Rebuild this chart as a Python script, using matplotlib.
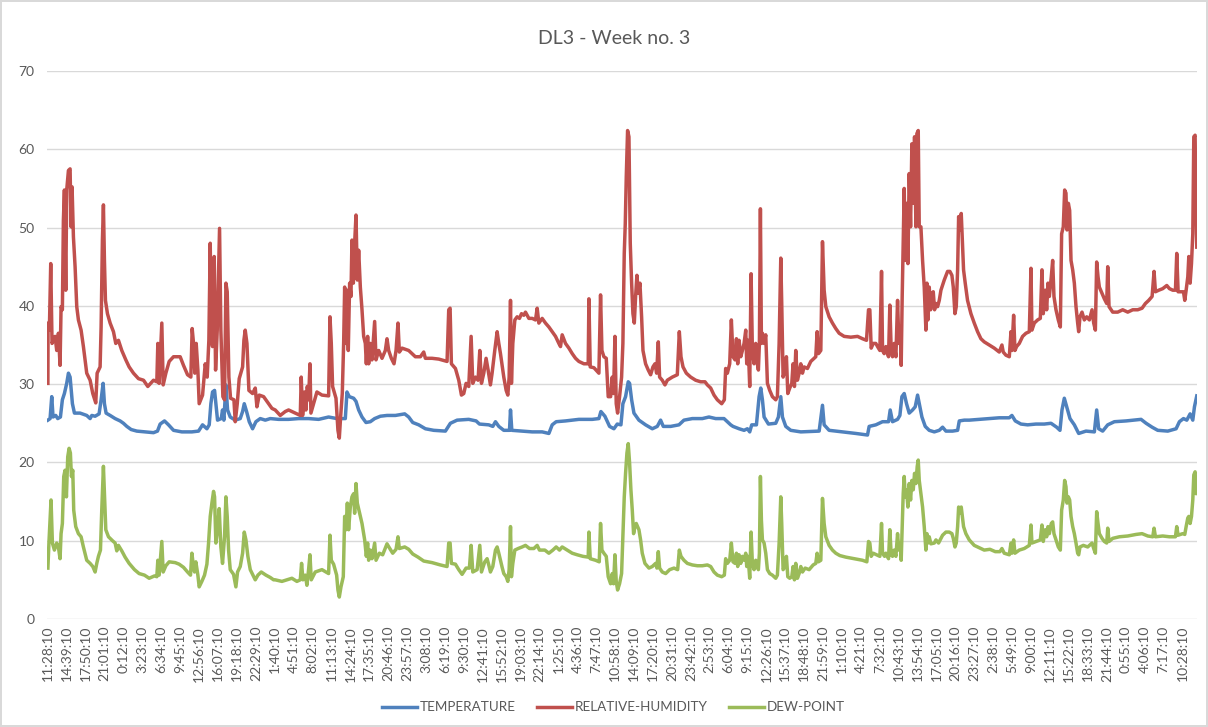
import numpy as np
import matplotlib
matplotlib.use("Agg")
import matplotlib.pyplot as plt

plt.rcParams['font.family'] = ['Lato', 'DejaVu Sans']

# elapsed hours since first reading (11:28:10) and readings for each logger channel
temp_hours = [0.0, 0.37, 0.65, 0.87, 1.32, 1.66, 2.11, 2.44, 2.78, 3.17, 3.46, 3.74, 3.90, 4.13, 4.47, 5.42, 6.54, 7.11, 7.39, 7.95,
              8.62, 8.96, 9.30, 9.52, 9.80, 10.48, 11.32, 12.16, 12.72, 13.29, 14.02, 14.97, 16.37, 17.78, 18.45, 18.90, 19.63, 20.31, 21.15, 22.55,
              24.24, 25.36, 26.04, 26.77, 27.16, 27.44, 27.72, 28.06, 28.28, 28.56, 29.18, 29.40, 29.63, 29.97, 30.25, 30.70, 31.54, 32.38, 32.78, 33.06,
              33.45, 33.90, 34.46, 35.02, 35.75, 36.60, 37.44, 38.84, 40.52, 42.21, 43.89, 45.58, 47.26, 48.66, 50.07, 50.35, 50.74, 51.47, 51.87, 52.32,
              52.88, 53.55, 54.28, 55.01, 55.97, 57.09, 58.50, 60.07, 60.74, 61.42, 62.43, 63.55, 64.95, 66.92, 67.76, 68.89, 70.85, 72.09, 72.65, 74.22,
              74.90, 75.35, 75.91, 76.75, 77.71, 77.88, 78.10, 79.84, 81.53, 83.21, 84.34, 84.90, 85.57, 87.14, 89.39, 91.64, 92.76, 93.10, 93.77, 94.56,
              95.29, 95.85, 96.47, 96.80, 97.25, 97.70, 97.93, 98.27, 98.66, 99.50, 100.62, 101.75, 102.59, 103.15, 103.60, 104.84, 106.24, 107.08, 108.49, 110.17,
              111.29, 112.42, 113.82, 114.95, 115.34, 116.36, 117.20, 117.76, 118.15, 118.49, 119.28, 119.73, 120.01, 120.29, 120.57, 121.30, 122.53, 122.98, 123.38, 123.66,
              124.22, 125.06, 126.75, 129.84, 130.40, 130.68, 131.52, 133.77, 136.01, 137.98, 138.26, 139.38, 140.51, 141.52, 141.80, 142.19, 143.04, 143.43, 143.77, 144.16,
              144.55, 145.00, 145.56, 146.01, 146.41, 146.69, 147.14, 147.70, 148.37, 149.22, 150.06, 150.62, 151.18, 152.30, 153.15, 153.43, 154.27, 155.11, 156.79, 158.48,
              160.16, 161.85, 162.29, 162.86, 163.81, 164.94, 166.34, 167.74, 168.87, 169.82, 170.38, 170.72, 171.11, 171.51, 172.07, 172.80, 173.53, 174.76, 176.17, 176.56,
              176.90, 177.57, 178.42, 179.54, 181.51, 184.03, 184.88, 185.89, 186.84, 188.53, 189.93, 190.49, 191.17, 191.73, 192.29, 192.74, 193.02, 193.41]
temp_values = [25.4, 25.6, 28.4, 25.8, 26.0, 25.6, 25.8, 28.0, 28.8, 30.1, 31.4, 30.9, 29.5, 27.5, 26.3, 26.3, 26.0, 25.6, 26.0, 25.9,
               26.2, 28.0, 30.1, 27.5, 26.3, 26.0, 25.6, 25.3, 25.0, 24.6, 24.2, 24.0, 23.9, 23.8, 24.0, 24.9, 25.3, 24.8, 24.1, 23.9,
               23.9, 24.0, 24.8, 24.3, 24.8, 27.5, 29.0, 29.2, 27.5, 25.4, 25.6, 26.7, 25.4, 29.9, 26.7, 25.8, 25.4, 25.6, 26.5, 27.5,
               26.5, 25.2, 24.3, 25.2, 25.6, 25.4, 25.6, 25.5, 25.5, 25.6, 25.6, 25.5, 25.8, 25.6, 25.6, 29.0, 28.4, 28.2, 27.8, 26.7,
               25.8, 25.1, 25.2, 25.6, 25.9, 26.0, 26.0, 26.2, 25.8, 25.1, 24.8, 24.3, 24.1, 24.0, 25.0, 25.4, 25.5, 25.3, 24.9, 24.8,
               24.6, 25.2, 24.6, 24.1, 24.1, 26.7, 24.1, 24.0, 23.9, 23.9, 23.7, 24.8, 25.2, 25.3, 25.5, 25.5, 25.6, 26.5, 25.9, 24.6,
               24.3, 24.9, 24.8, 27.5, 28.4, 30.3, 30.1, 28.0, 26.3, 25.4, 24.8, 24.3, 24.6, 25.4, 24.6, 24.6, 24.8, 25.4, 25.6, 25.6,
               25.8, 25.6, 25.6, 24.8, 24.6, 24.3, 24.1, 24.3, 23.9, 24.8, 24.8, 28.4, 29.5, 28.0, 25.8, 24.9, 25.0, 25.8, 28.4, 25.8,
               24.6, 24.1, 23.9, 24.0, 27.3, 24.8, 24.1, 23.9, 23.7, 23.5, 24.6, 24.8, 25.2, 25.2, 26.7, 25.2, 25.5, 26.0, 28.4, 28.8,
               27.5, 26.3, 26.7, 27.1, 28.6, 27.5, 25.8, 24.6, 24.1, 23.9, 24.1, 24.5, 24.0, 24.0, 24.1, 25.3, 25.4, 25.4, 25.5, 25.6,
               25.7, 25.7, 26.0, 25.3, 24.9, 24.8, 24.9, 24.9, 25.0, 24.5, 24.1, 26.7, 28.2, 27.1, 25.6, 24.8, 23.7, 24.0, 23.9, 26.7,
               24.3, 24.0, 24.8, 25.2, 25.3, 25.5, 25.0, 24.5, 24.1, 24.0, 24.3, 25.2, 25.6, 25.4, 26.2, 25.4, 27.1, 28.5]

rh_hours = [0.0, 0.03, 0.25, 0.48, 0.70, 1.21, 1.49, 1.77, 2.05, 2.22, 2.44, 2.61, 2.78, 3.01, 3.17, 3.46, 3.74, 3.90, 4.07, 4.30,
            4.58, 4.86, 5.14, 5.59, 5.98, 6.54, 7.11, 7.56, 8.06, 8.29, 8.79, 8.96, 9.18, 9.35, 9.52, 9.69, 10.03, 10.48, 11.04, 11.43,
            11.88, 12.44, 13.12, 13.68, 14.41, 15.25, 16.10, 16.82, 17.78, 18.34, 18.51, 18.73, 19.18, 19.41, 19.86, 20.42, 21.15, 22.27, 22.83, 23.51,
            24.07, 24.29, 24.52, 24.74, 24.97, 25.25, 25.47, 26.04, 26.49, 26.82, 27.10, 27.33, 27.50, 27.72, 28.00, 28.23, 28.51, 28.90, 29.12, 29.46,
            29.74, 29.97, 30.19, 30.47, 30.75, 31.32, 31.54, 31.88, 32.21, 32.78, 33.00, 33.22, 33.51, 33.84, 34.46, 34.91, 35.19, 35.58, 36.32, 37.16,
            37.72, 38.27, 39.12, 39.96, 40.52, 41.08, 41.92, 42.49, 42.65, 42.88, 43.22, 43.44, 43.67, 43.89, 44.12, 44.28, 44.73, 45.29, 46.14, 47.26,
            47.49, 47.71, 47.93, 48.50, 48.83, 49.06, 49.28, 49.56, 49.79, 49.96, 50.18, 50.35, 50.57, 50.80, 51.02, 51.19, 51.42, 51.64, 51.87, 52.09,
            52.32, 52.60, 52.88, 53.16, 53.44, 53.61, 53.83, 54.00, 54.28, 54.56, 55.01, 55.24, 55.69, 56.25, 56.81, 57.09, 57.37, 57.82, 58.27, 58.61,
            58.94, 59.17, 59.62, 60.74, 61.86, 62.71, 63.27, 63.55, 64.67, 65.80, 67.20, 67.48, 67.71, 67.93, 68.61, 69.17, 69.62, 70.01, 70.40, 70.85,
            71.25, 71.53, 71.98, 72.42, 72.71, 72.99, 73.38, 73.77, 74.11, 74.50, 74.78, 75.23, 75.63, 75.91, 76.19, 76.75, 77.15, 77.43, 77.65, 77.88,
            78.04, 78.27, 78.61, 79.00, 79.39, 79.73, 80.12, 80.40, 80.97, 81.53, 82.09, 82.37, 82.65, 83.21, 83.77, 84.34, 84.90, 85.46, 86.02, 86.30,
            86.58, 87.14, 87.71, 88.27, 88.83, 89.39, 90.23, 90.96, 91.08, 91.30, 91.92, 92.76, 93.04, 93.27, 93.60, 94.00, 94.33, 94.73, 95.01, 95.23,
            95.46, 95.68, 95.91, 96.24, 96.58, 96.80, 97.03, 97.20, 97.37, 97.59, 97.82, 98.04, 98.27, 98.49, 98.72, 98.94, 99.16, 99.39, 99.67, 99.95,
            100.18, 100.62, 101.07, 101.47, 101.86, 102.20, 102.48, 102.76, 102.98, 103.43, 103.88, 104.28, 105.12, 105.96, 106.30, 106.58, 106.92, 107.48, 108.21, 109.05,
            109.89, 110.62, 111.02, 111.58, 112.14, 112.70, 113.43, 113.88, 114.10, 114.39, 114.78, 115.06, 115.34, 115.68, 115.91, 116.13, 116.36, 116.64, 116.92, 117.20,
            117.48, 117.65, 117.87, 118.15, 118.38, 118.60, 118.88, 119.16, 119.44, 119.61, 119.78, 119.95, 120.12, 120.29, 120.57, 120.85, 121.13, 121.52, 121.97, 122.53,
            122.81, 123.10, 123.38, 123.54, 123.77, 124.11, 124.33, 124.56, 124.89, 125.23, 125.45, 125.68, 125.90, 126.18, 126.47, 126.75, 127.03, 127.31, 127.87, 128.43,
            129.27, 129.50, 129.72, 130.12, 130.40, 130.68, 130.96, 131.52, 132.08, 132.64, 133.21, 134.05, 135.17, 136.30, 137.14, 137.81, 138.15, 138.37, 138.60, 138.94,
            139.38, 139.67, 140.06, 140.34, 140.51, 140.79, 141.07, 141.35, 141.52, 141.74, 141.97, 142.19, 142.47, 142.76, 143.04, 143.26, 143.49, 143.65, 143.82, 143.99,
            144.16, 144.33, 144.55, 144.78, 145.00, 145.23, 145.45, 145.68, 145.90, 146.13, 146.29, 146.52, 146.69, 146.97, 147.25, 147.53, 147.81, 147.98, 148.15, 148.37,
            148.60, 148.82, 149.05, 149.27, 149.50, 149.78, 150.06, 150.34, 150.90, 151.46, 151.85, 152.19, 152.42, 152.70, 152.92, 153.15, 153.32, 153.54, 153.76, 154.15,
            154.43, 154.82, 155.39, 155.95, 156.51, 157.07, 157.63, 158.48, 159.32, 160.16, 160.61, 160.83, 161.28, 161.85, 162.13, 162.29, 162.58, 162.80, 163.08, 163.53,
            164.09, 164.65, 165.22, 165.50, 165.66, 166.06, 166.62, 167.07, 167.35, 167.57, 167.91, 168.14, 168.36, 168.59, 168.92, 169.15, 169.37, 169.71, 170.10, 170.44,
            170.66, 170.94, 171.17, 171.39, 171.56, 171.79, 172.01, 172.24, 172.52, 172.80, 173.08, 173.36, 173.53, 173.75, 174.09, 174.48, 174.88, 175.33, 175.78, 176.06,
            176.34, 176.56, 176.79, 177.01, 177.46, 177.85, 178.25, 178.42, 178.64, 179.26, 180.10, 180.94, 181.79, 182.63, 183.47, 184.20, 184.76, 185.32, 185.89, 186.22,
            186.45, 187.01, 187.68, 188.36, 188.81, 189.37, 189.82, 190.04, 190.27, 190.77, 191.17, 191.39, 191.62, 191.90, 192.07, 192.29, 192.52, 192.74, 192.91, 193.13,
            193.24, 193.41]
rh_values = [30.1, 37.8, 36.9, 45.4, 35.2, 36.1, 34.3, 36.5, 32.4, 39.9, 39.5, 50.9, 54.8, 42.0, 54.8, 57.3, 57.5, 50.1, 55.2, 48.8,
             45.0, 39.9, 38.2, 36.9, 34.8, 31.4, 30.5, 28.8, 27.6, 31.4, 32.2, 37.3, 48.4, 52.9, 45.8, 40.7, 39.0, 37.8, 36.7, 35.2,
             35.6, 34.3, 33.1, 32.2, 31.4, 30.7, 30.5, 29.7, 30.5, 30.3, 35.2, 30.1, 37.8, 29.9, 31.4, 32.9, 33.5, 33.5, 32.4, 31.2,
             30.9, 37.1, 35.2, 31.4, 35.2, 31.8, 27.5, 28.6, 32.6, 30.9, 35.6, 48.0, 36.1, 34.8, 46.3, 31.8, 36.9, 49.9, 36.9, 28.4,
             28.0, 42.9, 41.8, 30.9, 28.2, 28.0, 25.2, 27.5, 30.7, 32.2, 35.6, 36.9, 35.2, 29.2, 28.8, 29.5, 27.1, 28.6, 28.4, 27.5,
             26.9, 26.7, 26.0, 26.5, 26.7, 26.5, 26.2, 26.0, 30.9, 26.0, 29.0, 26.7, 29.7, 28.0, 32.6, 26.3, 27.5, 29.0, 28.6, 28.5,
             38.6, 35.2, 29.7, 28.2, 24.1, 23.1, 25.8, 28.8, 35.2, 42.4, 35.2, 42.0, 34.3, 42.9, 41.2, 48.4, 42.9, 48.0, 51.6, 43.3,
             47.1, 42.4, 39.5, 36.1, 35.2, 32.6, 36.1, 32.6, 35.2, 33.1, 38.0, 33.1, 34.3, 33.3, 34.3, 35.8, 34.3, 33.3, 32.6, 34.3,
             37.8, 34.1, 34.6, 34.3, 33.5, 33.5, 34.1, 33.3, 33.3, 33.2, 32.9, 39.5, 39.7, 32.6, 32.0, 30.5, 28.6, 28.8, 30.1, 29.7,
             36.1, 30.1, 30.9, 30.5, 34.3, 30.1, 31.4, 33.3, 31.8, 29.9, 31.4, 34.3, 36.7, 35.2, 33.9, 30.9, 29.2, 28.6, 30.9, 40.7,
             30.1, 35.2, 38.2, 38.6, 38.4, 39.0, 38.8, 39.2, 38.4, 38.4, 38.2, 39.7, 37.8, 38.4, 37.8, 37.3, 36.7, 36.1, 35.2, 34.8,
             36.3, 35.2, 34.6, 33.9, 33.3, 32.9, 32.6, 32.6, 40.9, 32.2, 32.1, 31.4, 41.4, 34.3, 33.5, 33.3, 28.4, 28.4, 30.9, 28.8,
             36.1, 27.5, 26.3, 28.4, 30.9, 35.2, 46.7, 50.5, 56.5, 62.4, 61.6, 48.0, 42.9, 39.0, 37.8, 41.2, 43.9, 41.6, 42.9, 38.6,
             34.3, 32.6, 31.8, 31.2, 32.2, 32.6, 31.4, 35.4, 30.9, 30.5, 29.9, 30.5, 30.9, 31.2, 36.7, 33.5, 32.2, 31.4, 30.9, 30.5,
             30.3, 30.3, 29.9, 29.5, 28.6, 28.0, 27.5, 28.0, 32.0, 31.4, 32.6, 38.2, 33.5, 33.1, 35.8, 32.6, 35.6, 33.5, 34.3, 35.2,
             36.9, 32.6, 35.6, 29.7, 44.1, 34.3, 32.6, 35.2, 32.6, 31.8, 35.2, 52.4, 35.2, 36.5, 35.2, 36.3, 30.1, 29.2, 28.4, 28.0,
             28.4, 35.2, 46.1, 40.3, 30.9, 31.8, 33.5, 28.8, 29.5, 30.1, 32.6, 29.7, 34.3, 30.5, 31.4, 32.6, 31.4, 32.2, 32.0, 32.9,
             33.5, 36.7, 33.9, 34.3, 48.2, 42.0, 39.9, 38.6, 37.8, 37.1, 36.5, 36.1, 36.0, 36.1, 35.8, 35.6, 39.5, 39.5, 34.6, 35.2,
             35.2, 34.8, 34.3, 44.4, 34.3, 33.9, 34.8, 33.9, 33.5, 40.1, 34.3, 33.5, 35.2, 33.5, 40.7, 35.2, 37.3, 32.4, 41.2, 48.0,
             55.0, 45.8, 53.1, 45.4, 56.9, 50.1, 60.7, 53.1, 61.6, 50.1, 62.0, 62.4, 50.1, 50.1, 45.8, 42.4, 36.9, 42.9, 38.2, 42.4,
             39.5, 41.6, 41.8, 39.5, 40.3, 39.9, 40.7, 42.0, 43.3, 44.4, 44.4, 43.9, 42.4, 39.0, 39.9, 44.6, 51.4, 49.7, 51.8, 44.6,
             42.9, 40.7, 39.0, 37.8, 36.7, 35.8, 35.4, 35.0, 34.6, 34.1, 35.0, 34.1, 33.7, 33.5, 36.7, 34.3, 38.8, 34.3, 34.8, 35.2,
             36.1, 36.5, 36.7, 44.8, 36.9, 37.8, 38.2, 38.4, 44.6, 39.0, 42.0, 39.5, 42.9, 41.2, 43.7, 45.8, 41.2, 39.5, 38.2, 37.3,
             49.2, 50.1, 54.8, 54.4, 49.7, 53.1, 52.2, 45.8, 44.6, 42.9, 39.9, 37.8, 36.7, 38.6, 39.2, 38.2, 38.6, 38.2, 39.5, 37.8,
             36.9, 45.6, 43.7, 42.4, 41.6, 40.9, 40.3, 45.0, 39.9, 39.2, 39.2, 39.5, 39.2, 39.5, 39.5, 39.7, 40.3, 40.7, 41.2, 44.4,
             41.8, 42.0, 42.2, 42.6, 42.2, 42.0, 42.0, 46.7, 41.8, 41.8, 41.8, 40.7, 42.0, 43.7, 46.3, 42.9, 45.4, 49.2, 61.6, 61.8,
             54.4, 47.5]

dew_hours = [0.0, 0.20, 0.53, 0.76, 1.10, 1.49, 1.77, 2.05, 2.22, 2.44, 2.67, 2.89, 3.12, 3.34, 3.57, 3.79, 3.96, 4.19, 4.35, 4.69,
             5.14, 5.59, 5.98, 6.54, 7.11, 7.56, 7.95, 8.23, 8.51, 8.85, 9.07, 9.35, 9.52, 9.75, 10.20, 10.87, 11.32, 11.60, 11.88, 12.44,
             13.00, 13.68, 14.58, 15.36, 16.26, 17.05, 17.95, 18.34, 18.51, 18.73, 19.18, 19.41, 19.86, 20.42, 21.43, 22.10, 22.83, 23.51, 24.01, 24.24,
             24.46, 24.69, 24.91, 25.25, 25.47, 25.92, 26.37, 26.77, 27.05, 27.33, 27.61, 27.89, 28.06, 28.28, 28.56, 28.84, 29.12, 29.40, 29.74, 29.97,
             30.19, 30.42, 30.70, 31.26, 31.65, 31.93, 32.38, 32.78, 33.06, 33.34, 33.67, 34.07, 34.46, 34.91, 35.36, 35.92, 36.71, 37.44, 38.00, 38.27,
             39.40, 40.24, 41.08, 41.92, 42.49, 42.71, 42.94, 43.33, 43.61, 43.89, 44.12, 44.34, 45.01, 46.14, 47.26, 47.49, 47.71, 48.10, 48.61, 48.83,
             49.06, 49.34, 49.73, 49.96, 50.18, 50.41, 50.63, 50.91, 51.19, 51.47, 51.64, 51.87, 52.09, 52.43, 52.88, 53.33, 53.61, 53.83, 54.00, 54.28,
             54.56, 55.01, 55.24, 55.80, 56.36, 57.09, 57.48, 58.05, 58.61, 58.94, 59.17, 60.07, 60.74, 61.42, 62.31, 63.27, 64.67, 66.08, 67.20, 67.48,
             67.71, 67.93, 68.61, 69.17, 69.73, 70.40, 70.96, 71.25, 71.53, 72.26, 72.71, 72.99, 73.55, 73.94, 74.22, 74.50, 74.90, 75.35, 75.63, 75.91,
             76.47, 76.75, 77.15, 77.43, 77.65, 77.88, 78.04, 78.27, 78.61, 79.17, 79.84, 80.40, 81.08, 81.81, 82.37, 82.76, 83.66, 84.34, 85.01, 85.57,
             86.13, 86.58, 87.42, 88.27, 89.11, 90.07, 90.96, 91.08, 91.30, 92.20, 92.82, 93.04, 93.27, 93.60, 94.00, 94.33, 94.73, 95.01, 95.23, 95.46,
             95.68, 95.91, 96.24, 96.58, 96.80, 97.03, 97.25, 97.48, 97.70, 97.93, 98.15, 98.38, 98.60, 98.83, 99.05, 99.28, 99.50, 99.78, 100.06, 100.51,
             101.19, 101.75, 102.31, 102.53, 102.76, 102.98, 103.43, 104.00, 104.67, 105.40, 106.02, 106.30, 106.58, 107.08, 107.65, 108.49, 109.33, 110.17, 111.02, 111.58,
             112.14, 112.70, 113.43, 113.88, 114.10, 114.39, 114.78, 115.06, 115.34, 115.68, 115.91, 116.13, 116.36, 116.64, 116.92, 117.20, 117.48, 117.65, 117.87, 118.15,
             118.38, 118.60, 118.88, 119.16, 119.44, 119.61, 119.78, 119.95, 120.12, 120.29, 120.57, 120.85, 121.13, 121.52, 121.97, 122.53, 122.81, 123.10, 123.38, 123.54,
             123.77, 124.11, 124.33, 124.56, 124.89, 125.23, 125.45, 125.68, 125.90, 126.18, 126.47, 126.75, 127.03, 127.48, 128.15, 128.83, 129.27, 129.50, 129.72, 130.12,
             130.40, 130.68, 130.96, 131.52, 132.08, 132.64, 133.32, 134.33, 135.73, 137.14, 137.87, 138.15, 138.37, 138.60, 138.94, 139.50, 140.06, 140.34, 140.51, 140.85,
             141.07, 141.52, 141.74, 141.97, 142.19, 142.47, 142.76, 143.04, 143.26, 143.49, 143.65, 143.82, 143.99, 144.16, 144.33, 144.55, 144.78, 145.00, 145.23, 145.45,
             145.68, 145.90, 146.13, 146.35, 146.52, 146.69, 146.97, 147.25, 147.53, 147.81, 147.98, 148.15, 148.37, 148.65, 149.22, 149.50, 149.94, 150.62, 151.18, 151.74,
             152.19, 152.42, 152.70, 152.92, 153.15, 153.32, 153.54, 153.76, 154.15, 154.54, 155.11, 155.95, 156.79, 157.63, 158.59, 159.49, 160.27, 160.61, 161.00, 161.85,
             162.13, 162.29, 162.58, 162.80, 163.53, 164.37, 165.22, 165.50, 165.66, 166.34, 167.07, 167.35, 167.57, 167.91, 168.14, 168.36, 168.59, 168.92, 169.15, 169.37,
             169.71, 170.10, 170.44, 170.66, 170.94, 171.17, 171.39, 171.56, 171.79, 172.01, 172.24, 172.52, 172.80, 173.08, 173.36, 173.53, 173.75, 174.31, 175.05, 175.78,
             176.06, 176.34, 176.56, 176.79, 177.01, 177.46, 177.85, 178.25, 178.42, 178.64, 179.26, 180.38, 181.79, 183.19, 184.20, 185.16, 186.00, 186.22, 186.45, 187.68,
             188.81, 189.82, 190.04, 190.27, 191.05, 191.39, 191.62, 191.90, 192.07, 192.29, 192.52, 192.74, 192.91, 193.13, 193.30, 193.41]
dew_values = [6.5, 10.1, 15.2, 9.7, 8.8, 9.7, 9.2, 7.7, 10.9, 12.2, 18.2, 19.0, 15.6, 20.7, 21.8, 21.2, 18.2, 19.0, 13.9, 11.8,
              10.9, 10.5, 9.2, 7.5, 7.1, 6.7, 6.0, 7.1, 8.0, 8.8, 13.9, 19.5, 16.0, 11.4, 10.5, 10.0, 9.7, 8.7, 9.4, 8.7,
              7.9, 7.1, 6.3, 5.8, 5.6, 5.2, 5.5, 5.4, 7.5, 5.6, 9.9, 6.0, 6.8, 7.3, 7.2, 7.0, 6.6, 6.0, 5.6, 8.4,
              7.0, 6.0, 7.3, 5.6, 4.1, 4.8, 5.6, 7.0, 9.7, 13.1, 14.8, 16.3, 15.6, 9.7, 11.4, 14.1, 9.2, 7.1, 10.5, 15.6,
              13.1, 8.8, 6.3, 5.7, 4.1, 6.0, 6.7, 8.4, 11.1, 10.1, 8.0, 6.3, 5.7, 5.0, 5.6, 6.0, 5.6, 5.3, 5.0, 5.0,
              4.8, 5.0, 5.2, 4.8, 5.0, 7.1, 5.0, 5.6, 4.3, 6.3, 8.2, 5.0, 6.0, 6.3, 5.8, 10.7, 7.5, 7.0, 5.6, 3.7,
              2.8, 4.1, 5.4, 13.1, 11.4, 14.8, 11.4, 14.3, 15.6, 16.0, 13.5, 17.3, 14.8, 13.7, 12.2, 10.1, 8.0, 9.7, 7.5, 8.8,
              7.7, 9.7, 7.5, 8.4, 8.2, 9.6, 9.1, 8.4, 8.9, 10.5, 9.0, 9.2, 8.9, 8.3, 7.9, 7.4, 7.2, 6.9, 6.7, 9.7,
              9.7, 7.1, 7.0, 6.3, 5.7, 6.5, 6.5, 9.4, 6.0, 6.3, 9.4, 6.0, 7.3, 7.7, 6.9, 6.0, 6.7, 8.8, 9.2, 8.4,
              6.6, 5.8, 5.4, 4.8, 6.3, 11.8, 5.4, 7.1, 8.8, 9.0, 9.2, 9.4, 9.0, 9.0, 9.4, 8.8, 8.8, 8.4, 8.8, 9.2,
              8.8, 9.2, 8.8, 8.4, 8.2, 8.0, 7.9, 11.1, 7.7, 7.5, 7.3, 12.2, 8.8, 8.4, 8.0, 5.4, 4.5, 5.8, 4.5, 8.2,
              4.8, 3.7, 4.5, 5.8, 10.5, 15.6, 18.6, 21.2, 22.4, 19.9, 16.5, 13.9, 10.9, 11.8, 12.2, 11.8, 11.4, 10.1, 8.4, 7.1,
              6.5, 6.7, 7.1, 6.5, 8.6, 6.5, 6.0, 5.8, 6.3, 6.5, 6.3, 8.8, 8.0, 7.5, 7.1, 6.9, 6.8, 6.8, 6.9, 6.7,
              6.0, 5.6, 5.4, 5.6, 7.7, 7.1, 7.5, 9.7, 7.3, 7.1, 8.4, 6.7, 8.2, 7.1, 8.0, 7.5, 8.4, 6.7, 8.0, 5.2,
              11.1, 7.1, 6.3, 7.5, 6.7, 6.3, 8.4, 18.2, 12.6, 10.1, 9.7, 8.4, 6.3, 5.8, 5.6, 5.2, 5.6, 9.7, 15.6, 12.2,
              6.3, 6.7, 8.0, 5.4, 5.2, 5.4, 6.7, 5.0, 7.1, 5.2, 5.8, 6.7, 6.0, 6.5, 6.3, 6.9, 7.1, 8.4, 7.3, 7.5,
              15.4, 12.2, 10.5, 9.4, 8.8, 8.4, 8.1, 7.9, 7.7, 7.5, 7.3, 9.9, 9.7, 8.0, 8.4, 8.2, 8.0, 12.2, 8.4, 8.0,
              8.4, 7.7, 11.4, 8.2, 8.0, 8.8, 8.0, 10.9, 8.8, 9.7, 7.5, 11.8, 16.0, 18.2, 15.6, 16.5, 14.3, 17.3, 15.2, 17.7,
              16.5, 18.6, 17.3, 19.5, 20.3, 17.7, 16.0, 14.3, 11.8, 8.8, 10.9, 9.7, 10.5, 9.6, 9.7, 10.1, 9.7, 10.7, 11.1, 11.1,
              10.9, 10.3, 9.2, 9.7, 11.8, 14.3, 13.5, 14.3, 11.8, 10.9, 10.1, 9.4, 9.1, 8.8, 8.9, 8.6, 8.6, 9.0, 8.4, 8.2,
              9.7, 8.4, 10.1, 8.4, 8.8, 9.0, 9.4, 12.0, 9.7, 9.9, 10.1, 12.0, 9.9, 11.4, 10.5, 11.8, 10.9, 12.2, 12.4, 10.9,
              10.1, 9.2, 8.8, 13.9, 15.2, 17.7, 16.9, 14.8, 15.6, 15.2, 13.1, 11.8, 10.9, 9.7, 8.4, 8.2, 9.2, 9.4, 9.2, 9.7,
              9.0, 8.4, 13.7, 12.2, 10.9, 10.3, 9.9, 9.7, 11.6, 9.9, 10.3, 10.5, 10.6, 10.8, 10.9, 10.6, 10.5, 11.6, 10.5, 10.6,
              10.5, 10.5, 11.8, 10.7, 10.9, 10.8, 11.8, 12.9, 13.1, 12.2, 13.1, 15.2, 18.4, 18.8, 16.0, 16.2]

# category labels shown on the axis (every 191st reading, one reading per minute)
tick_labels = ["11:28:10", "14:39:10", "17:50:10", "21:01:10", "0:12:10", "3:23:10", "6:34:10", "9:45:10",
               "12:56:10", "16:07:10", "19:18:10", "22:29:10", "1:40:10", "4:51:10", "8:02:10", "11:13:10",
               "14:24:10", "17:35:10", "20:46:10", "23:57:10", "3:08:10", "6:19:10", "9:30:10", "12:41:10",
               "15:52:10", "19:03:10", "22:14:10", "1:25:10", "4:36:10", "7:47:10", "10:58:10", "14:09:10",
               "17:20:10", "20:31:10", "23:42:10", "2:53:10", "6:04:10", "9:15:10", "12:26:10", "15:37:10",
               "18:48:10", "21:59:10", "1:10:10", "4:21:10", "7:32:10", "10:43:10", "13:54:10", "17:05:10",
               "20:16:10", "23:27:10", "2:38:10", "5:49:10", "9:00:10", "12:11:10", "15:22:10", "18:33:10",
               "21:44:10", "0:55:10", "4:06:10", "7:17:10", "10:28:10"]
label_step_hours = 191 / 60

grey = '#595959'
fig = plt.figure(figsize=(12.08, 7.27), dpi=100, facecolor='white',
                 edgecolor='#d9d9d9', linewidth=1.5)
ax = fig.add_axes([0.0389, 0.1486, 0.952, 0.7537])

ax.plot(temp_hours, temp_values, color='#4f81bd', lw=2.5, label='TEMPERATURE',
        solid_joinstyle='round')
ax.plot(rh_hours, rh_values, color='#c0504d', lw=2.5, label='RELATIVE-HUMIDITY',
        solid_joinstyle='round')
ax.plot(dew_hours, dew_values, color='#9bbb59', lw=2.5, label='DEW-POINT',
        solid_joinstyle='round')

ax.set_xlim(-0.15, 193.45)
ax.set_ylim(0, 70)
ax.set_yticks(range(0, 71, 10))
ax.set_xticks(np.arange(len(tick_labels)) * label_step_hours)
ax.set_xticklabels(tick_labels, rotation=90, va='top', ha='center')
ax.tick_params(axis='both', length=0, colors=grey, labelsize=10)
ax.tick_params(axis='y', pad=9)
ax.tick_params(axis='x', pad=5)
ax.yaxis.grid(True, color='#d9d9d9', lw=1)
ax.set_axisbelow(True)
for s in ax.spines.values():
    s.set_visible(False)

fig.text(0.508, 0.947, 'DL3 - Week no. 3', ha='center', va='center',
         fontsize=14, color=grey)

fig.legend(loc='center', bbox_to_anchor=(0.508, 0.027), ncol=3, frameon=False,
           fontsize=9.7, labelcolor=grey, handlelength=2.6, columnspacing=1.6,
           handletextpad=0.2)

fig.savefig('out.png', dpi=100, facecolor=fig.get_facecolor(),
            edgecolor=fig.get_edgecolor())
